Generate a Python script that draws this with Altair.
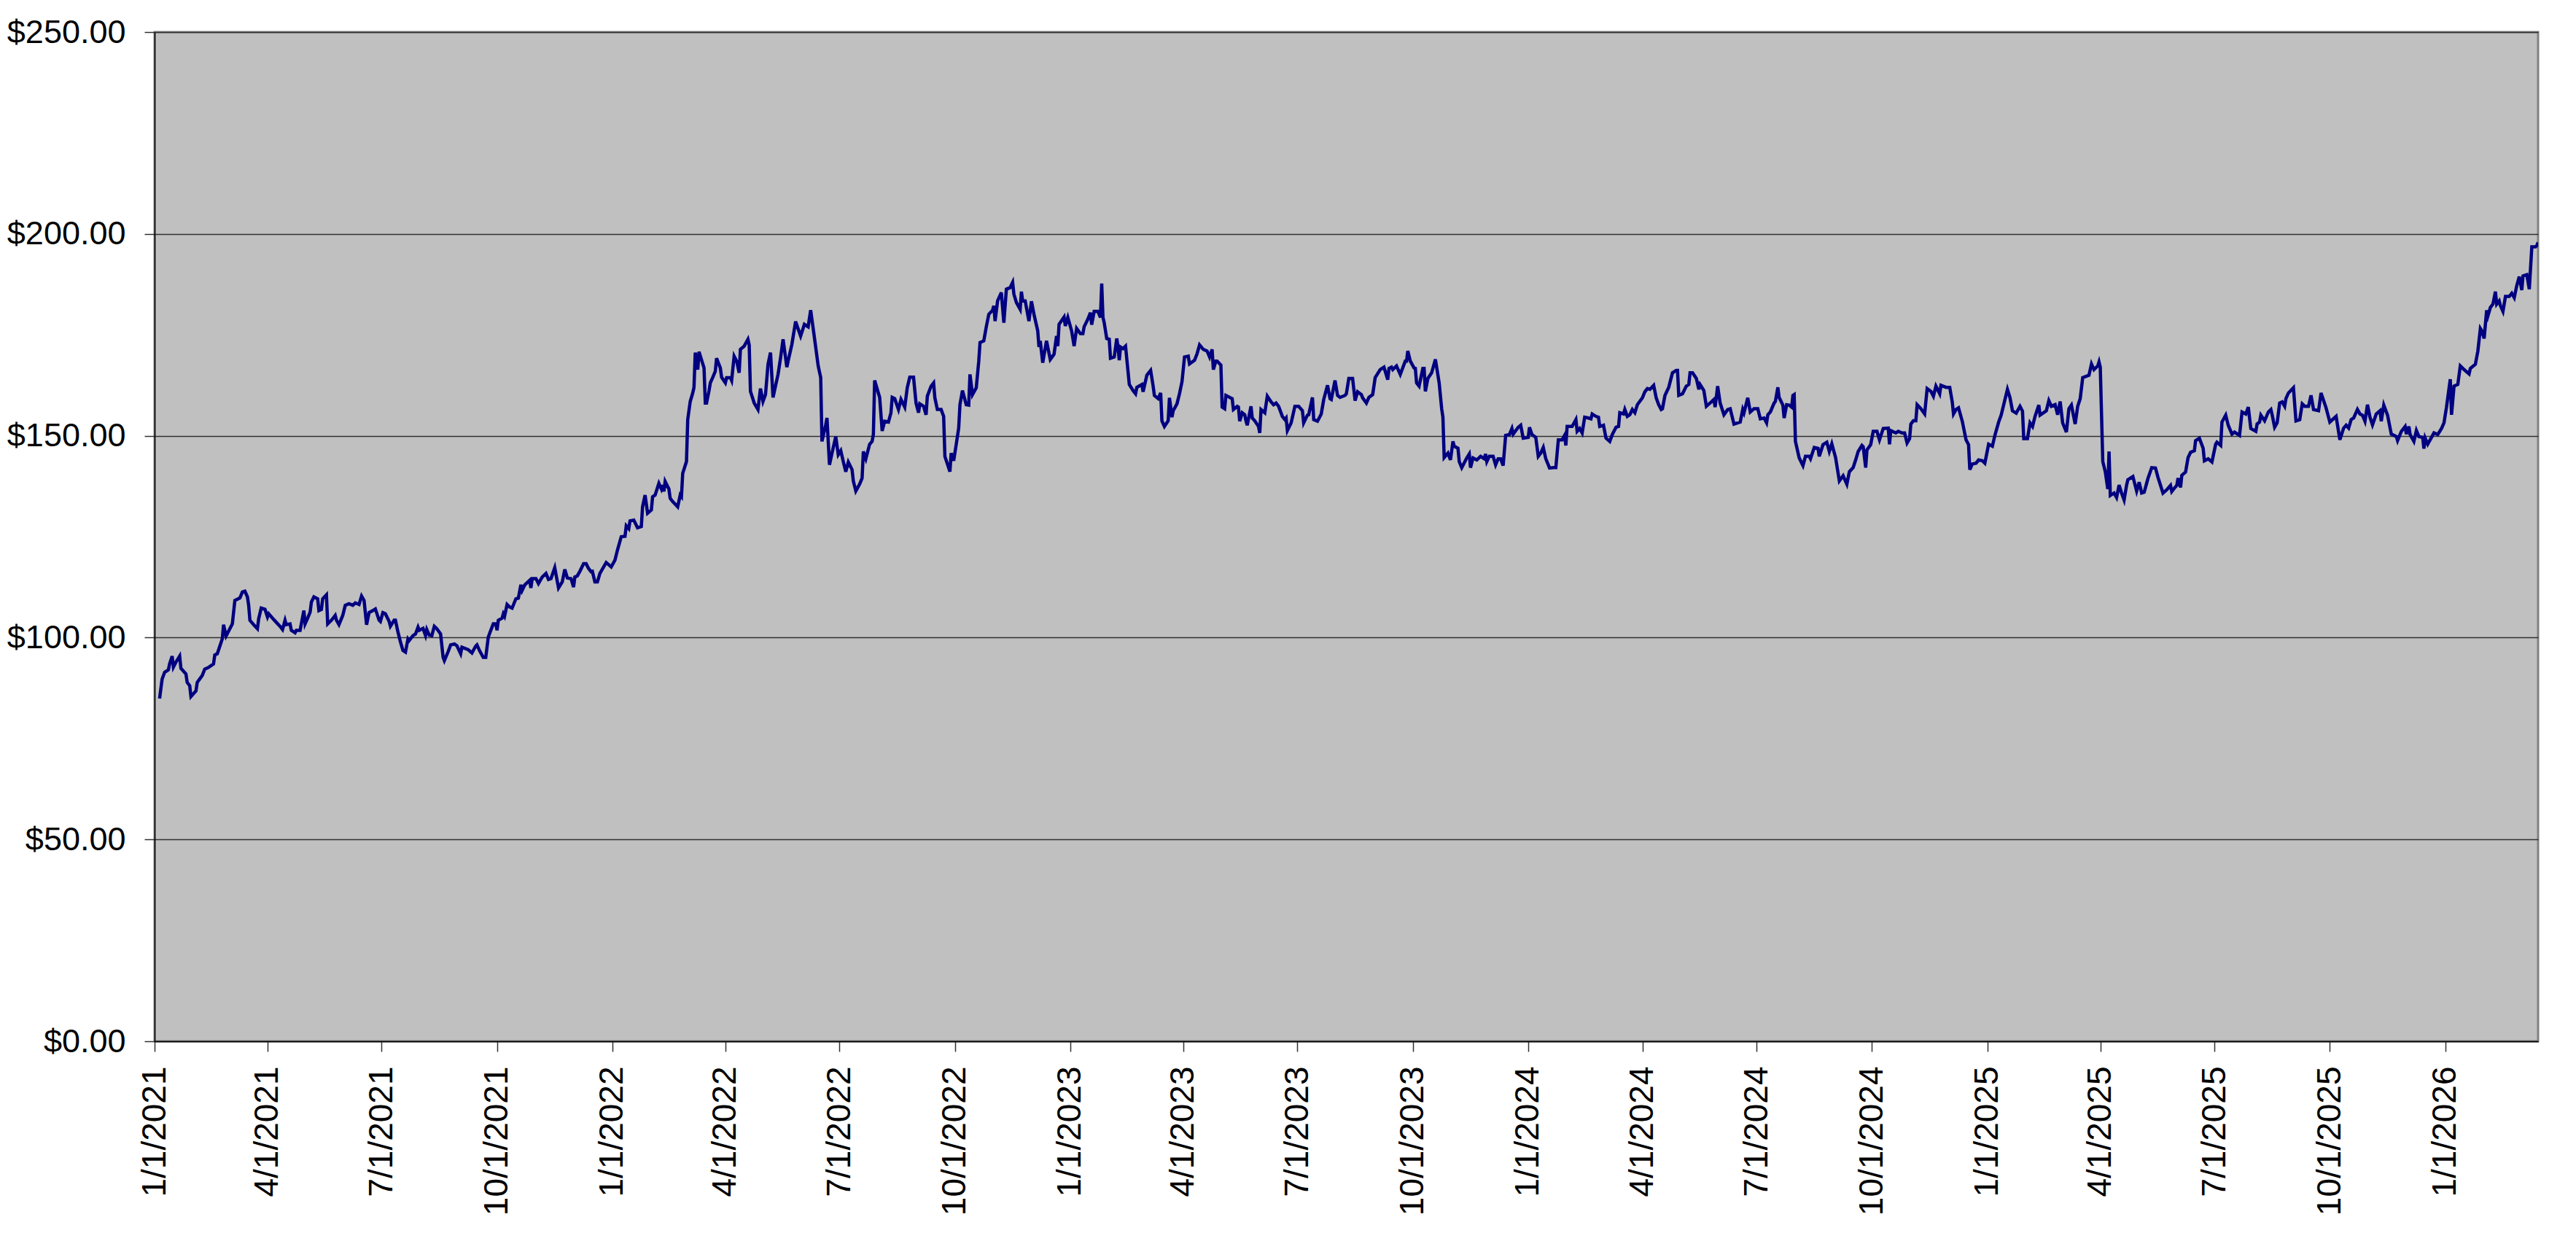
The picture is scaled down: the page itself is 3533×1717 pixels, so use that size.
import altair as alt
import pandas as pd

# (day offset from 2021-01-01, closing price)
y2021 = [(4, 84.9), (6, 89.7), (8, 91.4), (11, 92.0), (12, 93.5), (14, 95.4), (15, 92.7), (17, 93.9),
         (20, 95.4), (21, 92.4), (25, 91.0), (26, 88.9), (28, 88.1), (29, 85.4), (33, 86.8), (34, 88.9),
         (38, 90.6), (40, 92.2), (43, 92.6), (47, 93.5), (48, 95.7), (50, 96.0), (54, 99.7), (55, 103.2),
         (57, 100.4), (62, 103.4), (64, 109.2), (68, 109.8), (70, 111.3), (72, 111.5), (74, 110.1),
         (75, 108.0), (76, 104.3), (79, 103.2), (82, 102.2), (83, 104.7), (85, 107.3), (88, 107.0),
         (90, 105.1), (91, 105.9), (94, 104.8), (97, 103.8), (100, 102.8), (102, 102.0), (104, 104.3),
         (105, 103.2), (108, 103.4), (109, 101.8), (112, 101.2), (113, 101.8), (116, 101.8), (119, 106.7),
         (120, 103.4), (122, 104.8), (124, 106.3), (125, 108.8), (127, 110.1), (130, 109.6), (131, 106.7),
         (133, 107.0), (134, 109.6), (137, 110.6), (138, 103.4), (141, 104.3), (144, 105.5), (145, 104.3),
         (147, 103.2), (150, 105.5), (152, 108.0), (155, 108.4), (158, 108.0), (160, 108.6), (163, 108.2),
         (165, 110.3), (167, 109.2), (169, 103.2), (171, 106.2), (174, 106.7), (176, 107.1), (179, 104.3),
         (180, 104.0), (182, 106.2), (184, 105.9), (187, 104.0), (188, 102.8), (191, 104.3), (192, 104.3),
         (194, 101.4), (196, 98.9), (198, 96.8), (200, 96.4), (202, 99.7), (203, 99.3), (206, 100.5),
         (208, 100.9), (210, 102.6), (211, 101.8), (214, 102.3), (216, 100.5), (217, 102.0), (219, 100.6),
         (221, 100.5), (223, 102.8), (225, 102.2), (228, 100.9), (230, 95.1), (231, 94.3), (234, 96.5),
         (236, 98.2), (239, 98.4), (241, 98.0), (244, 96.0), (245, 97.6), (250, 97.0), (253, 96.2),
         (256, 97.9), (257, 98.2), (259, 96.8), (262, 95.1), (264, 95.1), (266, 100.1), (268, 101.8),
         (270, 103.4), (272, 103.4), (273, 101.8), (274, 104.3), (277, 104.8), (278, 105.9), (279, 105.3),
         (281, 108.2), (283, 107.6), (285, 107.3), (288, 109.6), (290, 109.8), (292, 113.1), (293, 111.7),
         (295, 113.0), (299, 114.2), (300, 112.3), (301, 114.6), (304, 114.6), (306, 113.4), (309, 115.0),
         (312, 115.9), (314, 114.4), (316, 114.6), (319, 117.3), (322, 112.3), (325, 113.8), (327, 116.9),
         (329, 114.8), (332, 114.6), (334, 112.5), (335, 115.0), (337, 115.3), (339, 116.4), (342, 118.3),
         (344, 118.3), (346, 117.1), (348, 116.3), (349, 116.4), (351, 113.8), (353, 113.8), (355, 115.9),
         (360, 118.6), (364, 117.5)]

y2022 = [(367, 119.2), (369, 121.7), (372, 125.0), (375, 125.1), (376, 127.7), (378, 127.0), (379, 128.9),
         (382, 129.1), (385, 127.2), (388, 127.5), (389, 132.4), (391, 135.3), (393, 130.8), (396, 131.6),
         (397, 134.9), (399, 135.3), (402, 138.2), (404, 136.8), (405, 137.8), (406, 136.2), (407, 138.7),
         (410, 136.8), (411, 134.5), (413, 133.7), (417, 132.4), (419, 135.3), (420, 134.9), (421, 140.7),
         (424, 143.6), (425, 154.0), (427, 158.5), (429, 160.6), (430, 162.0), (431, 170.6), (433, 166.4),
         (434, 170.8), (438, 166.8), (439, 158.1), (440, 158.1), (442, 161.2), (443, 163.1), (445, 164.5),
         (447, 166.0), (448, 169.2), (451, 166.8), (452, 164.5), (455, 163.1), (456, 164.4), (459, 164.4),
         (460, 163.7), (462, 169.7), (464, 168.5), (466, 165.6), (467, 171.4), (470, 172.2), (473, 173.9),
         (474, 172.5), (475, 161.0), (478, 158.1), (481, 156.5), (483, 161.7), (485, 158.5), (487, 160.2),
         (489, 167.7), (491, 170.6), (493, 159.5), (497, 165.2), (499, 169.3), (501, 173.9), (504, 167.0),
         (505, 168.5), (508, 172.6), (511, 178.3), (515, 174.7), (518, 177.6), (521, 177.0), (523, 181.1),
         (526, 174.3), (529, 167.3), (531, 164.4), (532, 148.6), (535, 152.7), (536, 154.4), (538, 142.8),
         (540, 145.7), (543, 149.8), (545, 145.3), (547, 146.3), (549, 143.6), (551, 141.1), (553, 143.5),
         (556, 141.6), (557, 138.8), (559, 136.3), (562, 138.0), (564, 139.5), (565, 146.1), (567, 144.3),
         (570, 147.9), (572, 148.6), (573, 150.4), (574, 163.7), (578, 159.5), (580, 151.2), (582, 153.6),
         (585, 153.4), (587, 155.7), (588, 159.5), (590, 159.2), (593, 156.5), (595, 159.0), (598, 157.1),
         (600, 161.9), (602, 164.5), (605, 164.5), (607, 158.1), (609, 155.7), (610, 157.9), (613, 157.3),
         (615, 155.2), (616, 159.8), (619, 162.3), (621, 163.1), (622, 159.4), (624, 156.5), (627, 156.5),
         (629, 154.8), (630, 144.9), (634, 141.1), (635, 145.7), (637, 143.8), (639, 147.8), (641, 151.9),
         (642, 157.7), (644, 161.2), (647, 157.7), (649, 157.6), (650, 165.2), (652, 160.2), (655, 161.9),
         (657, 168.5), (658, 173.1), (661, 173.5), (663, 177.0), (665, 180.1), (668, 181.1), (669, 182.2),
         (670, 178.4), (672, 183.4), (675, 185.5), (677, 178.0), (679, 186.3), (682, 186.7), (684, 188.0),
         (685, 185.1), (687, 183.0), (690, 181.3), (691, 185.7), (692, 183.4), (694, 183.4), (697, 178.4),
         (699, 183.3), (701, 180.1), (704, 176.0), (705, 172.0), (706, 173.5), (708, 168.1), (711, 173.5),
         (714, 168.9), (717, 170.2), (719, 174.7), (720, 172.2), (721, 177.6), (725, 179.4), (726, 177.2),
         (728, 179.3)]

y2023 = [(731, 176.0), (733, 172.2), (735, 176.6), (738, 175.3), (740, 175.3), (741, 177.0), (744, 178.9),
         (746, 180.5), (747, 177.5), (749, 180.8), (752, 180.8), (754, 179.3), (755, 187.7), (756, 179.3),
         (757, 178.0), (759, 174.1), (761, 173.9), (762, 169.2), (765, 169.5), (767, 174.1), (768, 172.0),
         (769, 168.7), (770, 172.0), (772, 171.6), (774, 172.2), (777, 162.7), (780, 161.2), (782, 160.4),
         (783, 162.0), (787, 162.7), (788, 160.9), (791, 165.0), (794, 166.2), (796, 162.3), (797, 160.0),
         (800, 159.2), (802, 160.6), (803, 153.7), (805, 152.3), (808, 153.7), (809, 159.4), (811, 154.6),
         (812, 156.2), (815, 157.9), (817, 160.4), (819, 163.4), (821, 169.5), (824, 169.7), (825, 167.8),
         (829, 168.7), (831, 170.3), (833, 172.5), (836, 171.4), (839, 171.0), (841, 169.5), (843, 171.4),
         (844, 166.4), (846, 168.5), (847, 168.5), (850, 167.5), (851, 157.1), (853, 156.7), (854, 160.0),
         (857, 159.5), (859, 159.2), (860, 156.5), (863, 157.3), (864, 157.1), (865, 153.6), (867, 155.7),
         (869, 155.2), (870, 153.7), (871, 152.6), (874, 157.3), (875, 154.4), (877, 153.7), (880, 152.3),
         (881, 150.7), (882, 156.5), (885, 155.7), (887, 159.8), (890, 158.4), (892, 157.7), (894, 158.1),
         (896, 157.3), (899, 154.8), (901, 154.0), (902, 154.4), (903, 151.3), (906, 153.2), (909, 157.3),
         (912, 157.3), (915, 156.2), (916, 153.2), (919, 155.1), (920, 155.2), (923, 159.5), (924, 154.0),
         (927, 153.6), (930, 155.4), (932, 159.0), (935, 162.5), (937, 159.2), (938, 159.0), (941, 163.7),
         (943, 160.0), (945, 159.5), (949, 160.0), (950, 160.4), (952, 164.2), (955, 164.2), (957, 158.7),
         (959, 160.9), (962, 160.2), (963, 159.4), (966, 158.1), (968, 159.5), (971, 160.2), (973, 164.4),
         (977, 166.4), (980, 167.0), (983, 163.9), (984, 166.7), (986, 167.0), (987, 166.4), (990, 167.3),
         (993, 165.2), (997, 168.5), (998, 168.5), (999, 171.0), (1001, 168.5), (1004, 166.8), (1005, 166.7),
         (1006, 163.1), (1008, 162.3), (1011, 166.7), (1012, 166.7), (1013, 161.0), (1015, 164.2),
         (1018, 165.6), (1021, 168.9), (1024, 163.1), (1026, 156.7), (1027, 154.6), (1028, 144.6),
         (1031, 145.7), (1033, 144.0), (1035, 148.6), (1036, 147.4), (1039, 146.9), (1040, 143.6),
         (1042, 142.1), (1046, 144.5), (1048, 145.5), (1049, 142.1), (1051, 144.5), (1054, 144.0),
         (1057, 144.9), (1060, 144.3), (1061, 145.5), (1062, 143.6), (1064, 144.9), (1067, 144.9),
         (1069, 142.8), (1071, 144.3), (1073, 144.3), (1075, 142.6), (1077, 150.1), (1080, 150.3),
         (1082, 151.8), (1083, 150.4), (1087, 152.1), (1089, 152.6), (1091, 149.4)]

y2024 = [(1095, 149.6), (1096, 152.1), (1098, 150.3), (1101, 149.6), (1103, 144.9), (1105, 145.7),
         (1107, 147.1), (1109, 144.3), (1112, 142.0), (1115, 142.1), (1117, 142.1), (1119, 149.0),
         (1122, 149.0), (1124, 150.1), (1125, 147.6), (1126, 152.3), (1130, 152.3), (1133, 154.0),
         (1134, 151.1), (1136, 151.8), (1138, 150.7), (1140, 154.6), (1143, 154.4), (1145, 154.2),
         (1146, 155.4), (1149, 154.8), (1151, 154.6), (1152, 152.3), (1155, 152.6), (1157, 149.4),
         (1160, 148.6), (1162, 150.3), (1165, 152.1), (1167, 152.3), (1168, 155.7), (1171, 155.4),
         (1172, 156.5), (1174, 154.8), (1176, 155.2), (1178, 156.5), (1180, 155.7), (1182, 157.7),
         (1186, 159.4), (1188, 160.9), (1190, 161.7), (1192, 161.5), (1195, 162.5), (1197, 159.4),
         (1199, 157.7), (1201, 156.5), (1202, 156.7), (1204, 160.0), (1207, 162.0), (1210, 165.6),
         (1213, 166.2), (1214, 166.2), (1215, 160.0), (1218, 160.4), (1221, 162.3), (1223, 162.7),
         (1224, 165.6), (1226, 165.6), (1229, 164.2), (1231, 161.5), (1232, 162.7), (1235, 161.2),
         (1237, 157.3), (1241, 158.4), (1243, 159.0), (1244, 157.1), (1246, 162.3), (1248, 158.1),
         (1251, 155.2), (1254, 156.5), (1256, 156.7), (1259, 152.9), (1264, 153.4), (1266, 156.5),
         (1267, 155.7), (1270, 159.4), (1272, 155.9), (1275, 156.7), (1278, 156.7), (1280, 154.2),
         (1283, 154.4), (1285, 153.2), (1286, 155.2), (1288, 155.9), (1291, 158.1), (1292, 158.5),
         (1294, 162.0), (1295, 159.5), (1298, 157.6), (1299, 154.4), (1301, 157.7), (1303, 157.6),
         (1305, 157.1), (1306, 160.0), (1307, 160.2), (1308, 148.6), (1311, 144.5), (1314, 142.6),
         (1316, 144.9), (1319, 144.9), (1320, 144.3), (1323, 147.1), (1326, 146.9), (1327, 144.9),
         (1330, 147.8), (1333, 148.4), (1335, 146.1), (1337, 148.0), (1340, 144.6), (1343, 138.8),
         (1346, 140.1), (1349, 138.0), (1351, 141.1), (1354, 142.1), (1356, 144.0), (1358, 146.1),
         (1361, 147.6), (1362, 147.3), (1364, 142.1), (1365, 146.5), (1368, 147.8), (1370, 151.1),
         (1373, 151.1), (1375, 149.0), (1378, 151.8), (1382, 151.9), (1383, 147.9), (1384, 151.3),
         (1388, 150.7), (1390, 151.1), (1393, 150.7), (1395, 150.7), (1397, 148.2), (1399, 149.3),
         (1400, 152.9), (1402, 153.7), (1404, 153.7), (1405, 157.7), (1408, 156.7), (1411, 155.4),
         (1413, 161.7), (1416, 161.0), (1418, 159.8), (1420, 162.3), (1423, 160.4), (1424, 162.5),
         (1428, 162.0), (1431, 162.0), (1433, 158.4), (1434, 155.4), (1436, 156.5), (1438, 156.9),
         (1441, 153.6), (1444, 149.0), (1446, 147.8), (1447, 141.6), (1449, 143.0), (1452, 143.2),
         (1454, 144.0), (1457, 143.8), (1459, 143.2)]

y2025 = [(1462, 147.9), (1465, 147.4), (1467, 150.1), (1470, 153.4), (1472, 155.1), (1477, 161.5),
         (1479, 159.5), (1481, 156.2), (1484, 155.6), (1487, 157.3), (1489, 156.1), (1490, 149.3),
         (1493, 149.3), (1495, 153.2), (1497, 152.3), (1499, 154.8), (1502, 157.6), (1503, 155.1),
         (1508, 156.2), (1510, 158.7), (1512, 157.3), (1515, 157.7), (1517, 155.2), (1519, 158.5),
         (1521, 153.2), (1524, 150.9), (1526, 156.7), (1528, 157.6), (1531, 152.9), (1533, 157.3),
         (1535, 159.2), (1537, 164.4), (1542, 165.0), (1544, 167.8), (1546, 166.4), (1549, 167.3),
         (1550, 168.3), (1551, 167.0), (1553, 143.6), (1555, 141.1), (1557, 136.8), (1558, 146.1),
         (1559, 135.2), (1562, 135.8), (1564, 134.7), (1566, 137.8), (1568, 135.8), (1570, 134.1),
         (1572, 137.8), (1573, 139.1), (1577, 139.9), (1580, 136.3), (1582, 138.5), (1584, 135.8),
         (1586, 136.0), (1589, 139.4), (1592, 142.1), (1595, 142.0), (1597, 139.7), (1601, 135.8),
         (1604, 136.6), (1607, 137.7), (1608, 136.2), (1610, 137.0), (1612, 137.7), (1613, 139.5),
         (1615, 137.2), (1616, 140.2), (1619, 141.0), (1621, 144.6), (1623, 145.9), (1626, 146.3),
         (1627, 148.8), (1630, 149.4), (1633, 146.9), (1634, 143.8), (1637, 144.3), (1640, 143.5),
         (1643, 147.9), (1644, 148.4), (1647, 147.6), (1648, 153.4), (1651, 155.1), (1653, 152.6),
         (1656, 150.4), (1658, 150.9), (1662, 150.1), (1664, 155.9), (1667, 155.4), (1669, 157.1),
         (1671, 151.8), (1675, 151.1), (1676, 152.9), (1678, 153.4), (1679, 155.1), (1682, 153.7),
         (1685, 155.9), (1687, 156.5), (1688, 155.2), (1690, 152.1), (1692, 153.2), (1694, 158.1),
         (1696, 158.4), (1698, 157.3), (1699, 159.2), (1701, 160.6), (1705, 161.9), (1706, 157.7),
         (1707, 153.7), (1710, 154.0), (1712, 157.9), (1714, 157.3), (1717, 157.3), (1719, 160.0),
         (1721, 156.5), (1725, 156.2), (1727, 160.6), (1731, 156.9), (1734, 153.4), (1739, 154.8),
         (1742, 149.0), (1745, 151.9), (1747, 152.6), (1749, 151.9), (1751, 154.0), (1753, 154.4),
         (1756, 156.5), (1758, 155.4), (1760, 155.1), (1762, 153.6), (1764, 157.7), (1766, 154.6),
         (1768, 152.7), (1771, 155.4), (1774, 156.2), (1775, 153.6), (1777, 157.6), (1780, 155.1),
         (1783, 150.4), (1787, 149.8), (1788, 148.8), (1791, 151.1), (1794, 152.3), (1795, 150.4),
         (1797, 152.3), (1798, 150.3), (1801, 148.6), (1803, 151.3), (1805, 149.8), (1808, 149.6),
         (1809, 146.8), (1810, 149.4), (1812, 147.9), (1814, 149.0), (1817, 150.7), (1820, 150.3),
         (1823, 151.8), (1825, 153.2)]

y2026 = [(1827, 157.1), (1830, 164.0), (1831, 155.2), (1833, 162.3), (1836, 162.7), (1838, 167.3),
         (1841, 166.4), (1845, 165.3), (1846, 166.7), (1850, 167.7), (1852, 171.0), (1854, 176.6),
         (1855, 176.1), (1857, 174.1), (1859, 181.1), (1860, 179.7), (1862, 181.8), (1864, 182.6),
         (1866, 185.7), (1867, 182.6), (1869, 183.4), (1870, 182.2), (1872, 180.8), (1874, 184.5),
         (1877, 184.5), (1879, 185.3), (1881, 184.2), (1883, 187.2), (1885, 189.4), (1887, 186.1),
         (1888, 189.6), (1891, 189.9), (1893, 186.3), (1895, 196.8), (1898, 196.8), (1899, 197.1),
         (1900, 197.9)]

y_ticks = [0, 50, 100, 150, 200, 250]
x_tick_months = [(y, m) for y in range(2021, 2027) for m in (1, 4, 7, 10) if (y, m) <= (2026, 1)]

START = pd.Timestamp("2021-01-01")
rows = []
for seg in (y2021, y2022, y2023, y2024, y2025, y2026):
    for d, p in seg:
        rows.append({"date": (START + pd.Timedelta(days=d)).strftime("%Y-%m-%d"), "price": p})
df = pd.DataFrame(rows)

tick_dates = [alt.DateTime(year=y, month=m, date=1, utc=True) for (y, m) in x_tick_months]
FONT = "Liberation Sans"

chart = alt.Chart(df).mark_line(color="#000080", strokeWidth=4.5, clip=True).encode(
    x=alt.X(
        "date:T",
        scale=alt.Scale(
            type="utc",
            domain=[alt.DateTime(year=2021, month=1, date=1, utc=True),
                    alt.DateTime(year=2026, month=3, date=16, utc=True)],
            nice=False,
        ),
        axis=alt.Axis(
            values=tick_dates,
            labelExpr="utcFormat(datum.value, '%-m/%-d/%Y')",
            labelAngle=270, labelFont=FONT, labelFontSize=46, labelColor="#000000",
            labelPadding=20, labelOverlap=False, labelFlush=False, labelLimit=600,
            tickSize=14, tickColor="#303030", tickWidth=1.5,
            domainColor="#000000", domainWidth=1.5, grid=False, title=None,
        ),
    ),
    y=alt.Y(
        "price:Q",
        scale=alt.Scale(domain=[0, 250], nice=False, zero=True),
        axis=alt.Axis(
            values=y_ticks, format="$.2f",
            labelFont=FONT, labelFontSize=45, labelColor="#000000",
            labelPadding=26, labelOverlap=False, labelFlush=False, labelLimit=600,
            tickSize=14, tickColor="#303030", tickWidth=1.5,
            domainColor="#000000", domainWidth=1.5,
            grid=True, gridColor="#303030", gridWidth=1.5, title=None,
        ),
    ),
).properties(
    width=3269,
    height=1384,
    autosize=alt.AutoSizeParams(type="none"),
    padding={"left": 204, "top": 36, "right": 44, "bottom": 281},
    background="#ffffff",
).configure_view(
    fill="#C0C0C0", stroke="#808080", strokeWidth=3,
)

chart.save("out.html", embed_options={"renderer": "svg", "actions": False})
